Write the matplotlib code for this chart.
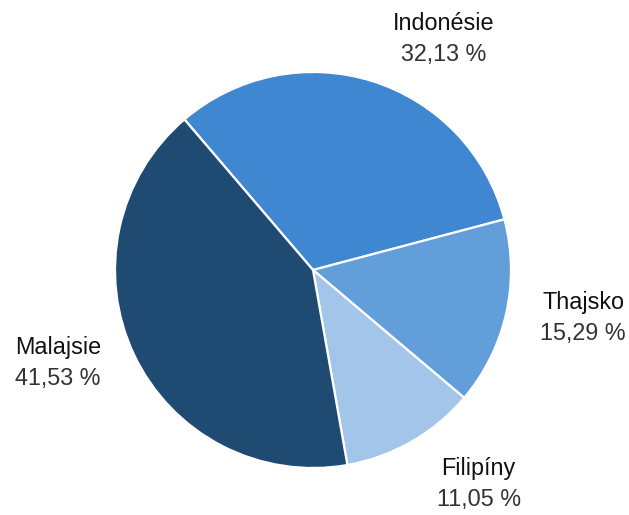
import numpy as np
import matplotlib
matplotlib.use("Agg")
import matplotlib.pyplot as plt

# data
countries = ["Indonésie", "Thajsko", "Filipíny", "Malajsie"]
shares = [32.13, 15.29, 11.05, 41.53]
colors = ["#3f87d0", "#629fda", "#a2c5e9", "#1f4a72"]

plt.rcParams["font.family"] = ["Liberation Sans", "DejaVu Sans"]

W, H = 629, 515
fig = plt.figure(figsize=(W / 100, H / 100), dpi=100)
ax = fig.add_axes([0, 0, 1, 1])

R = 198.0  # pie radius in px
cx, cy = 313.0, 270.0  # centre, px from top-left

wedges, _ = ax.pie(shares, colors=colors, startangle=130.5, counterclock=False,
                   radius=1.0, center=(0, 0),
                   wedgeprops=dict(edgecolor="white", linewidth=1.6))
ax.set_xlim(-cx / R, (W - cx) / R)
ax.set_ylim(-(H - cy) / R, cy / R)
ax.set_aspect("equal")
ax.axis("off")

fs = 16.8
renderer = fig.canvas.get_renderer()
pad = 15.0 / R  # extra horizontal gap, data units
gap = 11.0 / R  # vertical gap for labels above / below the pie
lh = 31.0 / R   # line height, data units

for w, name, val in zip(wedges, countries, shares):
    mid = np.deg2rad((w.theta1 + w.theta2) / 2)
    x, y = 1.1 * np.cos(mid), 1.1 * np.sin(mid)
    vtxt = ("%.2f %%" % val).replace(".", ",")
    # measure the two-line block
    probe = ax.text(0, 0, name + "\n" + vtxt, fontsize=fs, multialignment="center")
    bb = probe.get_window_extent(renderer)
    probe.remove()
    bw = bb.width / R
    bh = 2 * lh
    if np.cos(mid) > 0:
        bx = x + pad + bw / 2
    else:
        bx = x - pad - bw / 2
    if np.sin(mid) > 0.5:
        by = np.sin(mid) + gap + bh / 2
    elif np.sin(mid) < -0.5:
        by = np.sin(mid) - gap - bh / 2
    else:
        by = y
    ax.text(bx, by + lh / 2, name, ha="center", va="center", fontsize=fs, color="#111111")
    ax.text(bx, by - lh / 2, vtxt, ha="center", va="center", fontsize=fs, color="#333333")

fig.savefig("out.png", dpi=100)
